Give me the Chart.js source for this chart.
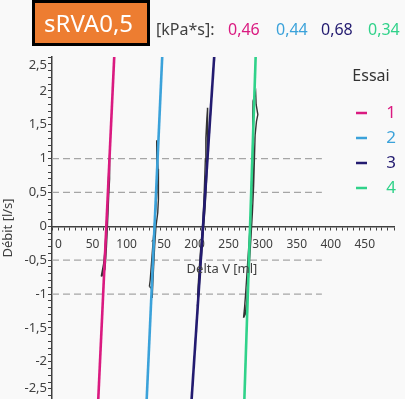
<!DOCTYPE html>
<html><head><meta charset="utf-8">
<script src="https://cdn.jsdelivr.net/npm/chart.js@4"></script>
<style>html,body{margin:0;padding:0;background:#f9f9f9;} canvas{display:block;}</style>
</head><body>
<canvas id="c" width="405" height="399"></canvas>
<script>
// ---- data ----
const trialNames = ['1', '2', '3', '4'];
const trialColors = ['#DA1A80', '#3BA2DA', '#231B70', '#30D28A'];
const resistanceValues = ['0,46', '0,44', '0,68', '0,34'];
const titleText = 'sRVA0,5';
const unitText = '[kPa*s]:';

const fitY = [-2.7, 2.6];
const fitX1 = [57.7, 82.3];
const fitX2 = [128.9, 152.8];
const fitX3 = [194.6, 229.4];
const fitX4 = [272.6, 290.0];

const traceX1 = [62.8, 64.3, 66.3, 67.8, 69.1, 70.3, 71.4, 72.5, 73.6, 74.6, 75.0, 75.4, 74.7, 73.7, 72.7, 71.6, 70.4, 69.1, 68.1, 66.3, 64.0, 62.8];
const traceY1 = [-0.74, -0.66, -0.55, -0.40, -0.20, 0.0, 0.25, 0.50, 0.75, 1.0, 1.05, 0.95, 0.70, 0.45, 0.20, -0.05, -0.30, -0.52, -0.64, -0.66, -0.73, -0.74];
const traceX2 = [133.5, 134.7, 136.2, 137.7, 139.2, 140.8, 142.4, 143.8, 144.8, 144.5, 144.3, 144.9, 146.2, 146.9, 146.7, 145.8, 143.2, 141.2, 139.7, 138.5, 137.9, 137.4, 135.4, 133.5];
const traceY2 = [-0.89, -0.80, -0.60, -0.40, -0.20, 0.0, 0.20, 0.40, 0.70, 1.0, 1.27, 1.10, 0.85, 0.60, 0.40, 0.20, 0.0, -0.30, -0.60, -0.85, -1.06, -0.95, -0.90, -0.89];
const traceX3 = [204.0, 204.5, 206.0, 208.0, 210.0, 212.0, 213.5, 214.8, 215.8, 216.5, 218.0, 219.1, 219.5, 218.9, 218.3, 217.3, 215.5, 213.3, 211.0, 208.7, 207.0, 205.3, 204.0];
const traceY3 = [-1.18, -1.00, -0.75, -0.45, -0.20, 0.05, 0.35, 0.70, 1.00, 1.30, 1.60, 1.75, 1.60, 1.30, 1.00, 0.65, 0.30, 0.00, -0.30, -0.60, -0.85, -1.08, -1.18];
const traceX4 = [271.9, 273.4, 274.9, 276.9, 278.9, 280.9, 282.9, 284.4, 285.4, 286.4, 285.4, 285.9, 289.7, 290.4, 292.9, 290.9, 288.9, 287.9, 286.7, 284.9, 282.9, 280.7, 278.4, 276.4, 274.4, 271.9];
const traceY4 = [-1.35, -1.20, -1.00, -0.70, -0.40, -0.10, 0.25, 0.60, 0.95, 1.30, 1.60, 1.85, 1.98, 1.80, 1.65, 1.55, 1.35, 1.00, 0.60, 0.20, -0.15, -0.50, -0.85, -1.15, -1.30, -1.35];

const thresholdLevels = [1, 0.5, -0.5, -1];
const thresholdX = [-9.6, 387];

const xTickLabels = [0, 50, 100, 150, 200, 250, 300, 350, 400, 450];
const yTickLabels = [-2.5, -2, -1.5, -1, -0.5, 0, 0.5, 1, 1.5, 2, 2.5];

// ---- build ----
const pts = (xs, ys) => xs.map((x, i) => ({x: x, y: ys[i]}));
const fits = [fitX1, fitX2, fitX3, fitX4];
const traces = [[traceX1, traceY1], [traceX2, traceY2], [traceX3, traceY3], [traceX4, traceY4]];

const datasets = [];
fits.forEach((fx, i) => datasets.push({
  label: trialNames[i], data: pts(fx, fitY), borderColor: trialColors[i],
  borderWidth: 2.6, showLine: true, pointRadius: 0
}));
traces.forEach((t) => datasets.push({
  label: '', data: pts(t[0], t[1]), borderColor: '#333333',
  borderWidth: 1.4, showLine: true, pointRadius: 0, tension: 0
}));
thresholdLevels.forEach((lv) => datasets.push({
  label: '', data: pts(thresholdX, thresholdX.map(() => lv)), borderColor: '#A6A6A6',
  borderWidth: 1.3, borderDash: [7, 4], showLine: true, pointRadius: 0
}));

const fmt = v => String(v).replace('.', ',');
const FONT = '"Noto Sans", "Open Sans", sans-serif';

const decor = {
  id: 'decor',
  beforeDraw(chart) {
    const c = chart.ctx; c.save();
    c.fillStyle = '#f9f9f9'; c.fillRect(0, 0, chart.width, chart.height);
    c.restore();
  },
  afterDraw(chart) {
    const c = chart.ctx; c.save();
    c.fillStyle = '#ED7D31'; c.fillRect(33, 1, 116, 44);
    c.strokeStyle = '#000'; c.lineWidth = 3; c.strokeRect(33.5, 1.5, 115, 43);
    c.fillStyle = '#ffffff'; c.font = '24px ' + FONT; c.textBaseline = 'alphabetic'; c.textAlign = 'left';
    c.fillText(titleText, 44, 32);
    c.font = '16px ' + FONT; c.fillStyle = '#404040';
    c.fillText(unitText, 156, 35);
    const vx = [228, 276, 321, 368];
    resistanceValues.forEach((v, i) => { c.fillStyle = trialColors[i]; c.fillText(v, vx[i], 35); });
    c.textAlign = 'center'; c.textBaseline = 'middle';
    c.fillStyle = '#333333'; c.font = '16px ' + FONT;
    c.fillText('Essai', 371, 76);
    trialNames.forEach((n, i) => {
      const y = 113 + 25 * i;
      c.strokeStyle = trialColors[i]; c.lineWidth = 2.5;
      c.beginPath(); c.moveTo(356, y); c.lineTo(367, y); c.stroke();
      c.fillStyle = trialColors[i]; c.font = '17px ' + FONT;
      c.fillText(n, 391, y);
    });
    c.fillStyle = '#404040'; c.font = '13px ' + FONT;
    c.fillText('Delta V [ml]', 222, 269);
    c.translate(8, 228); c.rotate(-Math.PI / 2);
    c.fillText('Débit [l/s]', 0, 0);
    c.restore();
  }
};

new Chart(document.getElementById('c'), {
  type: 'scatter',
  data: {datasets: datasets},
  plugins: [decor],
  options: {
    responsive: false, animation: false, devicePixelRatio: 1,
    layout: {padding: {top: 57, right: 11, bottom: 0, left: 0}},
    plugins: {legend: {display: false}, tooltip: {enabled: false}, title: {display: false}},
    scales: {
      x: {
        type: 'linear', min: -9.6, max: 493, position: {y: 0},
        afterFit: s => { s.height = 0; s.paddingLeft = 0; s.paddingRight = 0; },
        border: {display: true, color: '#404040', width: 1.5},
        grid: {drawOnChartArea: false, drawTicks: true, tickLength: 3, tickColor: '#404040', tickWidth: 1},
        ticks: {
          stepSize: 50 / 6, autoSkip: false, maxRotation: 0, padding: 8,
          color: '#404040', font: {family: FONT, size: 12},
          callback: v => { const m = xTickLabels.find(t => Math.abs(t - v) < 1e-6); return m === undefined ? '' : String(m); }
        }
      },
      y: {
        type: 'linear', min: -2.55, max: 2.5, position: 'left',
        afterBuildTicks: s => { const t = []; for (let i = -25; i <= 25; i++) t.push({value: i / 10}); s.ticks = t; },
        afterFit: s => { s.width = 52; s.paddingTop = 0; s.paddingBottom = 0; },
        border: {display: true, color: '#404040', width: 1.5},
        grid: {drawOnChartArea: false, drawTicks: true, tickLength: 4, tickColor: '#404040', tickWidth: 1},
        ticks: {
          autoSkip: false, padding: 1,
          color: '#404040', font: {family: FONT, size: 13},
          callback: v => {
            const m = yTickLabels.find(t => Math.abs(t - v) < 1e-6);
            if (m === undefined) return '';
            const s = fmt(m);
            if (m === 2.5) return ['', s];
            if (m === -2.5) return [s, ''];
            return s;
          }
        }
      }
    }
  }
});
</script>
</body></html>
